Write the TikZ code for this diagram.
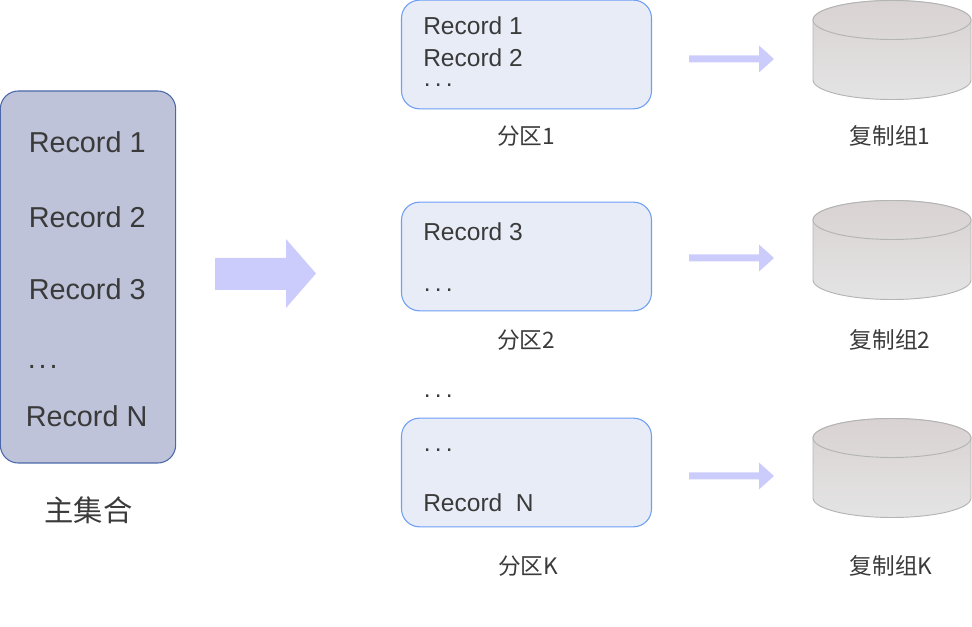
\documentclass[tikz,border=0pt]{standalone}
\usepackage{fontspec}
\setmainfont{Liberation Sans}
\newfontfamily\cjkf{Noto Sans CJK SC}
\definecolor{txt}{HTML}{3A3A3A}
\definecolor{mainfill}{HTML}{BEC3DA}
\definecolor{mainedge}{HTML}{4A68A8}
\definecolor{partfill}{HTML}{E8ECF7}
\definecolor{partedge}{HTML}{6E9FF5}
\definecolor{arrowc}{HTML}{CCCCFC}
\definecolor{cyltop}{HTML}{D9D2D2}
\definecolor{cylmid}{HTML}{DDD9D9}
\definecolor{cylbot}{HTML}{E4E4E4}
\definecolor{cyledge}{HTML}{B4B4B4}
\newcommand{\rdots}[1]{.\kern#1.\kern#1.}
\tikzset{
  mainbox/.style={draw=mainedge,fill=mainfill,line width=0.8pt,rounded corners=13.5pt,minimum width=131.5pt,minimum height=279pt,inner sep=0pt},
  partbox/.style={draw=partedge,fill=partfill,line width=0.8pt,rounded corners=13.5pt,minimum width=187.5pt,minimum height=81.5pt,inner sep=0pt},
  bigtxt/.style={text=txt,font=\fontsize{21.6}{21.6}\selectfont,anchor=base west,inner sep=0pt},
  rectxt/.style={text=txt,font=\fontsize{18.4}{18.4}\selectfont,anchor=base west,inner sep=0pt},
  lbl/.style={text=txt,font=\cjkf\fontsize{17}{17}\selectfont,anchor=base,inner sep=0pt},
  blockarrow/.style={fill=arrowc,draw=none},
  cylbody/.style={draw=cyledge,line width=0.7pt,top color=cyltop,bottom color=cylbot,shading angle=0},
  cyllid/.style={draw=cyledge,line width=0.7pt,top color=cyltop,bottom color=cylmid},
}
% #1 name, #2 top-lid centre y
\newcommand{\cylinderat}[2]{%
  \coordinate (#1) at (892,#2);
  \path[cylbody] (813,#2) -- (813,#2+60) arc[start angle=180,end angle=0,x radius=79,y radius=19.5] -- (971,#2) arc[start angle=360,end angle=180,x radius=79,y radius=19.5] -- cycle;
  \path[cyllid] (892,#2) ellipse[x radius=79,y radius=19.5];
}
% #1 y of the axis
\newcommand{\smallarrow}[1]{%
  \fill[blockarrow] (689,#1-3.5) -- (759,#1-3.5) -- (759,#1-13.5) -- (774,#1) -- (759,#1+13.5) -- (759,#1+3.5) -- (689,#1+3.5) -- cycle;
}
\begin{document}
\begin{tikzpicture}[x=0.75pt,y=-0.75pt]
\useasboundingbox (0,0) rectangle (972,627);
% main collection
\node[mainbox] (main) at (88,277) {};
\node[bigtxt] (m1) at (28.5,153) {Record 1};
\node[bigtxt] (m2) at (28.5,228) {Record 2};
\node[bigtxt] (m3) at (28.5,300) {Record 3};
\node[bigtxt] (m4) at (27.5,369) {\rdots{2.2pt}};
\node[bigtxt] (m5) at (25.5,427) {Record N};
\node[text=txt,font=\cjkf\fontsize{22}{22}\selectfont,anchor=base,inner sep=0pt] (mlabel) at (88.5,522) {主集合};
% big arrow
\fill[blockarrow] (215,258) -- (286,258) -- (286,239) -- (316,273.5) -- (286,308) -- (286,290) -- (215,290) -- cycle;
% partitions
\node[partbox] (p1) at (526.5,54.5) {};
\node[partbox] (p2) at (526.5,256.5) {};
\node[partbox] (p3) at (526.5,472.5) {};
\node[rectxt] (p1a) at (423,35) {Record 1};
\node[rectxt] (p1b) at (423,67) {Record 2};
\node[rectxt] (p1c) at (423.5,87) {\rdots{3.15pt}};
\node[rectxt] (p2a) at (423,241) {Record 3};
\node[rectxt] (p2b) at (423.5,292) {\rdots{3.15pt}};
\node[rectxt] (gap) at (423.5,398) {\rdots{3.15pt}};
\node[rectxt] (p3a) at (423.5,452) {\rdots{3.15pt}};
\node[rectxt] (p3b) at (423,512) {Record~~N};
\node[lbl] (l1) at (526,145) {分区1};
\node[lbl] (l2) at (526,349) {分区2};
\node[lbl] (l3) at (528,574) {分区K};
% small arrows
\smallarrow{59}
\smallarrow{258}
\smallarrow{476}
% replica groups
\cylinderat{c1}{20}
\cylinderat{c2}{220}
\cylinderat{c3}{438}
\node[lbl] (g1) at (890,145) {复制组1};
\node[lbl] (g2) at (890,349) {复制组2};
\node[lbl] (g3) at (891,574) {复制组K};
\end{tikzpicture}
\end{document}
